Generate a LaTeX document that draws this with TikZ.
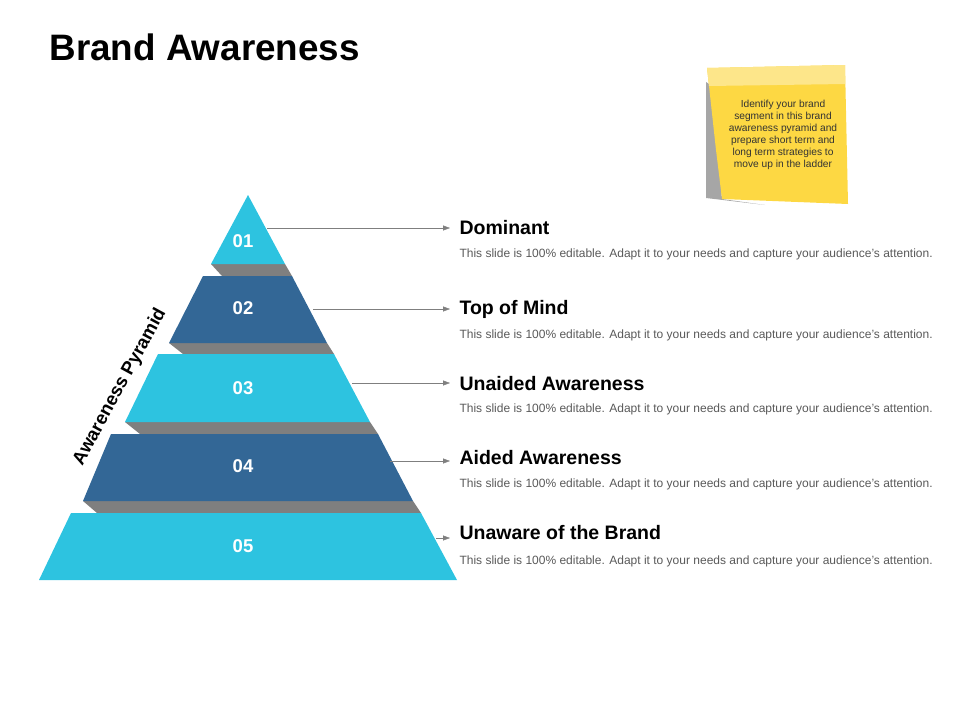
\documentclass[tikz,border=0pt]{standalone}
\usepackage{fontspec}
\setmainfont{Liberation Sans}
\usetikzlibrary{arrows.meta}
\definecolor{lb}{HTML}{2DC3E0}
\definecolor{db}{HTML}{336796}
\definecolor{gr}{HTML}{7F7F7F}
\definecolor{yel}{HTML}{FDD843}
\definecolor{yell}{HTML}{FDE68A}
\tikzset{
 num/.style={text=white,font=\bfseries\fontsize{18.5}{20}\selectfont},
 ttl/.style={anchor=west,font=\bfseries\fontsize{19.5}{22}\selectfont},
 desc/.style={anchor=west,text=black!65,font=\fontsize{12}{14}\selectfont},
 arr/.style={draw=gr,-{Triangle[length=7pt,width=5pt]}}
}
\begin{document}
\begin{tikzpicture}[x=1pt,y=-1pt]
\useasboundingbox (0,0) rectangle (960,720);
\node[anchor=west,font=\bfseries\fontsize{36.8}{40}\selectfont] (t) at (46,47) {Brand Awareness};
% sticky note
\fill[black!35] (706,82) -- (706,198) -- (765,205) -- (722,199) -- (712,86) -- cycle;
\fill[yel] (707,68) -- (845,65) -- (848,204) -- (722,199) -- (716,150) -- (709,86) -- cycle;
\fill[yell] (707,68) -- (845,65) -- (845,84) -- (709,86) -- cycle;
\node[align=center,font=\fontsize{10.2}{12.1}\selectfont,text=black!80] (sn) at (783,135) {Identify your brand\\segment in this brand\\awareness pyramid and\\prepare short term and\\long term strategies to\\move up in the ladder};
% gray joins
\fill[gr] (211,264) -- (285,264) -- (292,276) -- (222,276) -- cycle;
\fill[gr] (169,343) -- (327,343) -- (334,354) -- (183,354) -- cycle;
\fill[gr] (125,422) -- (370,422) -- (378,434) -- (140,434) -- cycle;
\fill[gr] (83,501) -- (413,501) -- (421,513) -- (97,513) -- cycle;
% tiers
\fill[lb] (248,195) -- (285,264) -- (211,264) -- cycle;
\fill[db] (203,276) -- (292,276) -- (327,343) -- (169,343) -- cycle;
\fill[lb] (158,354) -- (334,354) -- (370,422) -- (125,422) -- cycle;
\fill[db] (111,434) -- (378,434) -- (413,501) -- (83,501) -- cycle;
\fill[lb] (71,513) -- (421,513) -- (457,580) -- (39,580) -- cycle;
\node[num] (n1) at (243,241) {01};
\node[num] (n2) at (243,308) {02};
\node[num] (n3) at (243,388) {03};
\node[num] (n4) at (243,466) {04};
\node[num] (n5) at (243,546) {05};
\node[rotate=61.5,font=\bfseries\fontsize{18.5}{20}\selectfont] (ap) at (120,387) {Awareness Pyramid};
% texts
\foreach \i/\y/\dy/\t in {1/228/254/Dominant,2/309/335/Top of Mind,3/384/409/Unaided Awareness,4/458/484/Aided Awareness,5/533/561/Unaware of the Brand}{
 \node[ttl] (h\i) at (456,\y) {\t};
 \node[desc] (d\i) at (456,\dy) {This slide is 100\% editable. Adapt it to your needs and capture your audience's attention.};
}
\coordinate (s1) at (267,228);
\coordinate (s2) at (313,309);
\coordinate (s3) at (352,383);
\coordinate (s4) at (390,461);
\coordinate (s5) at (436,538);
\coordinate (e1) at (450,228);
\coordinate (e2) at (450,309);
\coordinate (e3) at (450,383);
\coordinate (e4) at (450,461);
\coordinate (e5) at (450,538);
\foreach \i in {1,...,5}{\draw[arr] (s\i) -- (e\i);}
\end{tikzpicture}
\end{document}
